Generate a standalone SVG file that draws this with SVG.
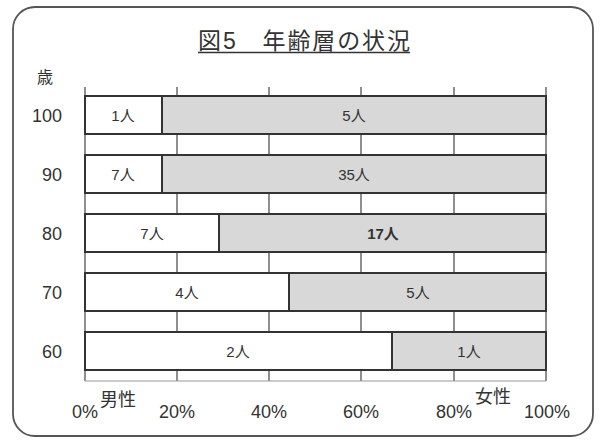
<svg xmlns="http://www.w3.org/2000/svg" width="605" height="441" viewBox="0 0 605 441">
<style>
text{font-family:"Liberation Sans","Noto Sans CJK JP",sans-serif;fill:#333}
.bar{stroke:#333;stroke-width:2}
.m{fill:#fff}
.f{fill:#d8d8d8}
.grid{stroke:#444;stroke-width:1.2}
.lbl{font-size:15px;text-anchor:middle}
.ax{font-size:18px;text-anchor:middle}
.yl{font-size:18px;text-anchor:end}
.sx{font-size:18px}
</style>
<rect x="0" y="0" width="605" height="441" fill="#fff"/>
<rect x="13" y="7" width="580" height="429" rx="22" fill="#fff" stroke="#555" stroke-width="1.8"/>
<g id="title">
<text x="198" y="49" font-size="23" textLength="212" lengthAdjust="spacing" fill="#222">図5　年齢層の状況</text>
<line x1="198" y1="52.5" x2="410" y2="52.5" stroke="#333" stroke-width="1.5"/>
</g>
<g id="grid">
<line class="grid" x1="85" y1="87" x2="85" y2="381"/>
<line class="grid" x1="177" y1="87" x2="177" y2="381"/>
<line class="grid" x1="269" y1="87" x2="269" y2="381"/>
<line class="grid" x1="361" y1="87" x2="361" y2="381"/>
<line class="grid" x1="454" y1="87" x2="454" y2="381"/>
<line class="grid" x1="546" y1="87" x2="546" y2="381"/>
<line x1="85" y1="381" x2="546" y2="381" stroke="#999" stroke-width="1"/>
</g>
<g id="axis-y">
<text x="45" y="83" font-size="16" text-anchor="middle">歳</text>
<text class="yl" x="62" y="122">100</text>
<text class="yl" x="62" y="181">90</text>
<text class="yl" x="62" y="240">80</text>
<text class="yl" x="62" y="299">70</text>
<text class="yl" x="62" y="358">60</text>
</g>
<g id="bar-100">
<rect class="bar m" x="85" y="96" width="77" height="38"/>
<rect class="bar f" x="162" y="96" width="384" height="38"/>
<text class="lbl" x="123" y="121">1人</text>
<text class="lbl" x="354" y="121">5人</text>
</g>
<g id="bar-90">
<rect class="bar m" x="85" y="155" width="77" height="38"/>
<rect class="bar f" x="162" y="155" width="384" height="38"/>
<text class="lbl" x="123" y="180">7人</text>
<text class="lbl" x="354" y="180">35人</text>
</g>
<g id="bar-80">
<rect class="bar m" x="85" y="214" width="134" height="38"/>
<rect class="bar f" x="219" y="214" width="327" height="38"/>
<text class="lbl" x="152" y="239">7人</text>
<text class="lbl" x="383" y="239" font-weight="bold">17人</text>
</g>
<g id="bar-70">
<rect class="bar m" x="85" y="273" width="204" height="38"/>
<rect class="bar f" x="289" y="273" width="257" height="38"/>
<text class="lbl" x="187" y="298">4人</text>
<text class="lbl" x="418" y="298">5人</text>
</g>
<g id="bar-60">
<rect class="bar m" x="85" y="332" width="307" height="38"/>
<rect class="bar f" x="392" y="332" width="154" height="38"/>
<text class="lbl" x="238" y="357">2人</text>
<text class="lbl" x="469" y="357">1人</text>
</g>
<g id="axis-x">
<text class="ax" x="85" y="418">0%</text>
<text class="ax" x="177" y="418">20%</text>
<text class="ax" x="269" y="418">40%</text>
<text class="ax" x="361" y="418">60%</text>
<text class="ax" x="454" y="418">80%</text>
<text class="ax" x="547" y="418">100%</text>
<text class="sx" x="100" y="406">男性</text>
<text class="sx" x="475" y="403">女性</text>
</g>
</svg>
